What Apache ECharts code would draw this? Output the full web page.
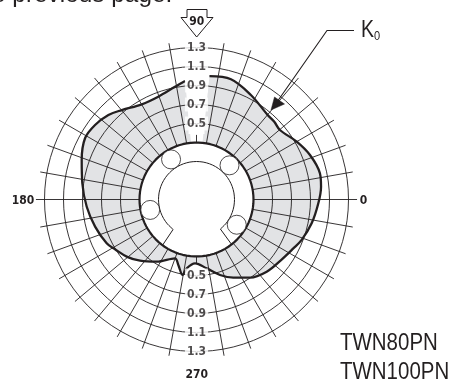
<!DOCTYPE html>
<html><head><meta charset="utf-8">
<style>html,body{margin:0;padding:0;background:#fff}#c{width:462px;height:385px}</style>
<script src="https://cdn.jsdelivr.net/npm/echarts@6/dist/echarts.min.js"></script>
</head><body><div id="c"></div>
<script>
const k0Angles = [84,74,62.5,49.9,45,39.8,30,21.4,12,5.9,358.2,348.3,339,333.2,324.4,314.2,304.4,295.2,287.3,278.4,268.7,261.9,259.6,254.5,249.9,237.4,227.3,219.6,211.4,206,195,183.8,171.9,161,151.2,143.7,136.2,129.9,119.9,110.4,100.8,95.5];
const k0Values = [1.005,1.017,0.94,0.863,0.858,0.843,0.918,0.983,1.028,1.018,0.983,0.938,0.886,0.842,0.795,0.76,0.697,0.609,0.532,0.433,0.372,0.432,0.508,0.416,0.359,0.477,0.577,0.647,0.705,0.752,0.805,0.858,0.914,0.978,1.039,1.025,0.985,0.927,0.856,0.855,0.908,0.953];
const ringValues = [0.5,0.7,0.9,1.1,1.3];
const ringLabels = ['0.5','0.7','0.9','1.1','1.3'];
const spokeAngles = [0,10,20,30,40,50,60,70,80,100,110,120,130,140,150,160,170,180,190,200,210,220,230,240,250,260,280,290,300,310,320,330,340,350];
const holeAngles = [122.4,46,192.7,327.9];
const holeRadius = 0.2;
const hubRadius = 0.1;
const boreRadius = 0.3;
const hubArcAngles = [309,320,330,340,350,0,10,20,30,40,50,60,70,80,90,100,110,120,130,140,150,160,170,180,190,200,210,220,232];
const circleAngles = [];
for (let a = 0; a <= 360; a += 4) circleAngles.push(a);

const INK = '#231f20';
const FONT = '"Liberation Sans",Arial,sans-serif';
const CONDENSED = '"DejaVu Sans Condensed","Liberation Sans",sans-serif';
const base = {type:'line',coordinateSystem:'polar',symbol:'none',silent:true,animation:false,clip:false};
const ln = (data,w,z,extra) => Object.assign({},base,{data,z,lineStyle:{color:INK,width:w}},extra||{});
const circle = v => circleAngles.map(a=>[v,a]);
const series = [];
// fill
series.push(ln(k0Angles.map((a,i)=>[k0Values[i],a]),0,1,{smooth:0.35,lineStyle:{width:0},areaStyle:{color:'#e2e3e5',origin:'start',opacity:1}}));
// white strip behind the top tick labels
series.push(ln([[0.39,90],[1.03,90]],16,2,{lineStyle:{color:'#fff',width:16}}));
// rings
ringValues.forEach(v=>series.push(ln(circle(v),0.9,3)));
// spokes
spokeAngles.forEach(a=>series.push(ln([[boreRadius,a],[(a===0||a===180)?1.39:1.37,a]],0.9,4)));
series.push(ln([[boreRadius,90],[0.38,90]],0.9,4));
series.push(ln([[boreRadius,270],[0.37,270]],0.9,4));
// K0 curve
series.push(ln(k0Angles.map((a,i)=>[k0Values[i],a]),2.3,6,{smooth:0.35}));
// bore
series.push(ln(circle(boreRadius),2.2,8,{areaStyle:{color:'#fff',origin:'start',opacity:1}}));
// hub outline
series.push(ln(hubArcAngles.map(a=>[hubRadius,a]),1,9,{smooth:0.3}));
series.push(ln([[hubRadius,232],[boreRadius,233.4]],1,9));
series.push(ln([[hubRadius,309],[boreRadius,308]],1,9));
// holes
series.push({type:'scatter',coordinateSystem:'polar',silent:true,animation:false,z:10,symbol:'circle',symbolSize:19,
  data:holeAngles.map(a=>[holeRadius,a]),itemStyle:{color:'#fff',borderColor:INK,borderWidth:1}});
// tick labels
const tickLabel = {show:true,position:'inside',color:INK,fontFamily:CONDENSED,fontWeight:'bold',fontSize:12,backgroundColor:'#fff',padding:[1,2,1,2]};
[90,270].forEach(ang=>{
  series.push({type:'scatter',coordinateSystem:'polar',silent:true,animation:false,z:12,symbolSize:1,itemStyle:{color:'#fff'},
    data:ringValues.map((v,i)=>({value:[v,ang],label:Object.assign({},tickLabel,{formatter:ringLabels[i]})}))});
});

const txt = (x,y,text,fs,w,sx,extra)=>({type:'text',x,y,z:20,scaleX:sx||1,style:Object.assign({text,fontFamily:FONT,fontSize:fs,fontWeight:w||'normal',fill:INK,verticalAlign:'middle'},extra||{})});
const graphic = [
  txt(-8,-4,'e previous page.',23,'normal',1.06),
  {type:'polygon',z:20,shape:{points:[[187,9.5],[207,9.5],[207,17.5],[213,17.5],[196.7,37],[181,17.5],[187,17.5]]},style:{fill:'#fff',stroke:INK,lineWidth:1}},
  txt(196.7,22,'90',12,'bold',1,{fontFamily:CONDENSED,align:'center'}),
  txt(23,201,'180',12,'bold',1,{fontFamily:CONDENSED,align:'center'}),
  txt(363.5,201,'0',12,'bold',1,{fontFamily:CONDENSED,align:'center'}),
  txt(196.7,375,'270',12,'bold',1,{fontFamily:CONDENSED,align:'center'}),
  {type:'polyline',z:20,shape:{points:[[354,30.5],[327,30.5],[277,102]]},style:{stroke:INK,lineWidth:1.1,fill:'none'}},
  {type:'polygon',z:20,shape:{points:[[271,110],[274.5,97],[284.5,104]]},style:{fill:INK,stroke:INK,lineWidth:0.5}},
  {type:'text',x:361,y:19,z:20,scaleX:0.85,style:{rich:{k:{fontFamily:FONT,fontSize:23,fill:INK},s:{fontFamily:FONT,fontSize:13,fill:INK,verticalAlign:'bottom',padding:[11,0,0,0]}},text:'{k|K}{s|0}'}},
  txt(340,344,'TWN80PN',23,'normal',0.89),
  txt(340,373,'TWN100PN',23,'normal',0.89)
];
const chart = echarts.init(document.getElementById('c'),null,{renderer:'canvas'});
chart.setOption({
  animation:false,
  backgroundColor:'#fff',
  polar:{center:[196.5,199.5],radius:161.5},
  angleAxis:{type:'value',min:0,max:360,startAngle:0,clockwise:false,show:false},
  radiusAxis:{type:'value',min:-0.3,max:1.4,show:false},
  series,graphic
});
</script></body></html>
